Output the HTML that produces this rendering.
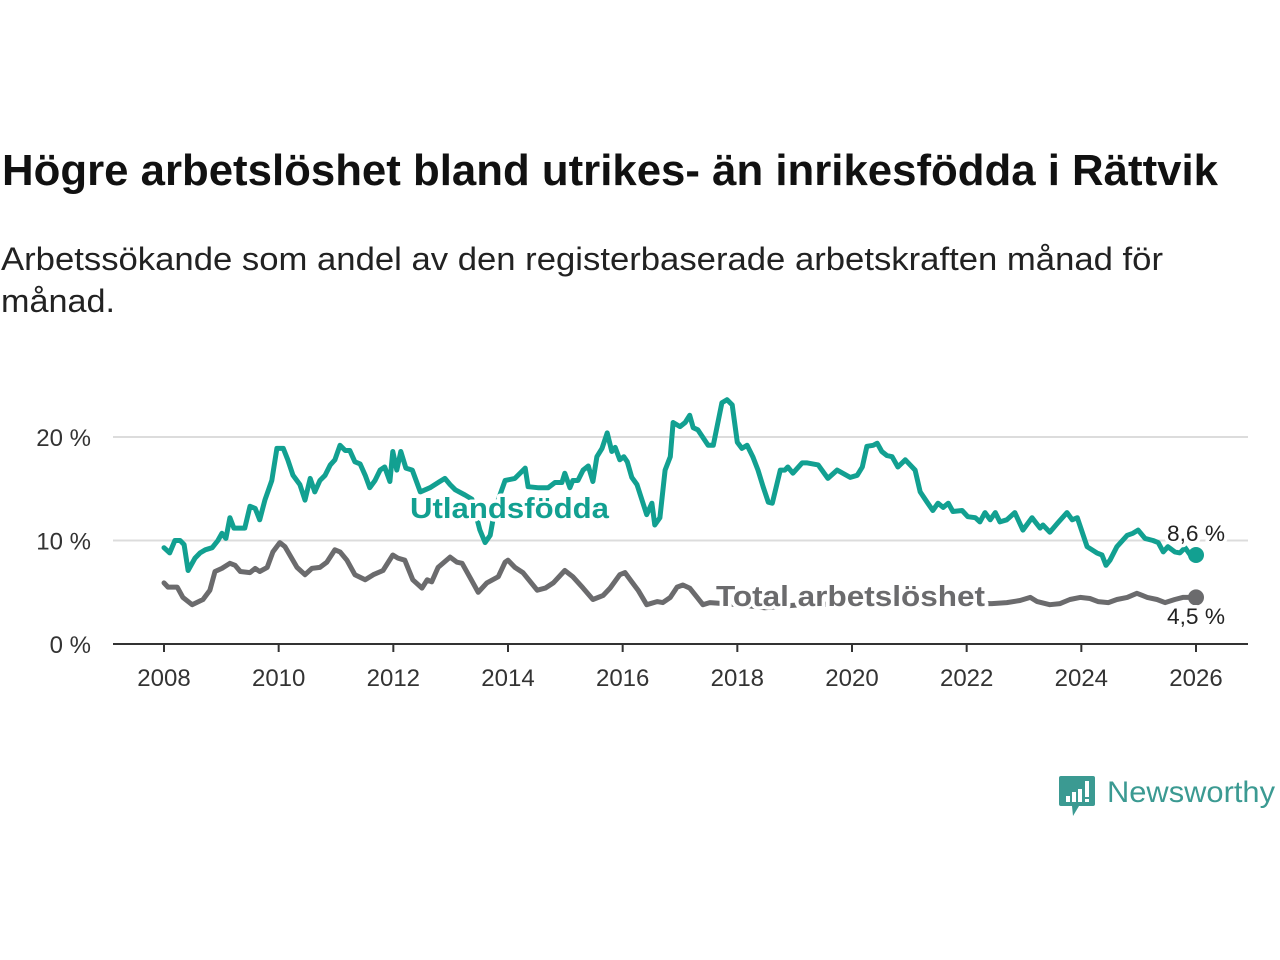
<!DOCTYPE html>
<html><head><meta charset="utf-8"><style>
html,body{margin:0;padding:0;background:#fff;}
svg{display:block;font-family:"Liberation Sans",sans-serif;}
</style></head><body>
<svg id="chart" width="1280" height="960" viewBox="0 0 1280 960">
<text x="2" y="185" font-size="44" font-weight="bold" fill="#111" textLength="1216" lengthAdjust="spacingAndGlyphs">Högre arbetslöshet bland utrikes- än inrikesfödda i Rättvik</text>
<text x="1" y="270" font-size="32" fill="#222" textLength="1162" lengthAdjust="spacingAndGlyphs">Arbetssökande som andel av den registerbaserade arbetskraften månad för</text>
<text x="1" y="312" font-size="32" fill="#222" textLength="114" lengthAdjust="spacingAndGlyphs">månad.</text>
<g id="grid"></g>
<g id="lines"></g>
<g id="labels"></g>
<g>
<path d="M1061 776 h32 a2 2 0 0 1 2 2 v26 a2 2 0 0 1 -2 2 h-14 l-6 10 l-1 -10 h-11 a2 2 0 0 1 -2 -2 v-26 a2 2 0 0 1 2 -2z" fill="#3b9a92"/>
<rect x="1066" y="796" width="4" height="6" fill="#fff"/><rect x="1072" y="792" width="4" height="10" fill="#fff"/><rect x="1078" y="789" width="4" height="13" fill="#fff"/><rect x="1085" y="781" width="4" height="16" fill="#fff"/><rect x="1085" y="799" width="4" height="3" fill="#fff"/>
<text x="1107" y="802" font-size="30" fill="#3b9a92" textLength="168" lengthAdjust="spacingAndGlyphs">Newsworthy</text>
</g>
</svg>
<script>
const tealYears=[0,.10,.19,.28,.35,.42,.54,.63,.72,.84,.94,1.01,1.08,1.15,1.22,1.41,1.50,1.59,1.67,1.76,1.88,1.97,2.08,2.16,2.25,2.37,2.46,2.55,2.63,2.72,2.81,2.90,2.98,3.07,3.16,3.24,3.33,3.42,3.51,3.59,3.68,3.77,3.85,3.94,3.99,4.06,4.13,4.22,4.33,4.47,4.64,4.81,4.90,4.99,5.08,5.25,5.37,5.51,5.60,5.69,5.77,5.95,6.12,6.30,6.35,6.52,6.70,6.82,6.94,6.99,7.08,7.13,7.22,7.31,7.40,7.48,7.55,7.64,7.73,7.81,7.87,7.95,8.02,8.08,8.16,8.25,8.42,8.51,8.56,8.65,8.74,8.83,8.88,9.00,9.09,9.17,9.23,9.31,9.49,9.58,9.73,9.82,9.91,10.00,10.08,10.17,10.27,10.36,10.45,10.54,10.61,10.75,10.83,10.88,10.97,11.13,11.22,11.41,11.58,11.74,11.97,12.09,12.18,12.26,12.37,12.44,12.52,12.61,12.70,12.80,12.93,13.10,13.19,13.31,13.41,13.50,13.59,13.68,13.76,13.92,14.02,14.15,14.23,14.32,14.41,14.50,14.58,14.70,14.84,14.98,15.14,15.28,15.33,15.45,15.59,15.75,15.84,15.93,16.10,16.27,16.36,16.43,16.50,16.62,16.80,16.90,16.99,17.11,17.25,17.34,17.43,17.51,17.63,17.72,17.81,17.90,18.0];
const tealValues=[9.3,8.8,10.0,10.0,9.6,7.1,8.3,8.8,9.1,9.3,10.0,10.7,10.2,12.2,11.2,11.2,13.3,13.1,12.0,13.9,15.8,18.9,18.9,17.8,16.3,15.4,13.9,16.0,14.7,15.8,16.3,17.3,17.8,19.2,18.7,18.7,17.6,17.4,16.3,15.1,15.8,16.8,17.1,15.7,18.6,16.8,18.6,17.0,16.8,14.7,15.1,15.7,16.0,15.4,14.9,14.4,14.0,11.0,9.8,10.5,13.0,15.8,16.0,17.0,15.2,15.1,15.1,15.6,15.6,16.5,15.1,15.8,15.8,16.8,17.2,15.7,18.1,18.9,20.4,18.6,19.0,17.8,18.1,17.6,16.1,15.4,12.5,13.6,11.5,12.2,16.8,18.1,21.4,21.0,21.4,22.1,20.9,20.7,19.2,19.2,23.3,23.6,23.1,19.5,18.9,19.2,18.1,16.8,15.2,13.7,13.6,16.8,16.8,17.1,16.5,17.5,17.5,17.3,16.0,16.8,16.1,16.3,17.1,19.1,19.2,19.4,18.6,18.2,18.1,17.1,17.8,16.8,14.7,13.7,12.9,13.6,13.2,13.6,12.8,12.9,12.3,12.2,11.8,12.7,12.0,12.7,11.8,12.0,12.7,11.0,12.2,11.2,11.5,10.8,11.7,12.7,12.0,12.2,9.4,8.8,8.6,7.6,8.1,9.4,10.5,10.7,11.0,10.2,10.0,9.8,8.9,9.4,8.9,8.8,9.3,8.6,8.6];
const totalYears=[0,.07,.23,.33,.49,.68,.80,.89,1.01,1.15,1.24,1.33,1.50,1.59,1.67,1.80,1.90,2.02,2.11,2.32,2.46,2.58,2.72,2.84,2.98,3.07,3.19,3.33,3.51,3.65,3.82,3.99,4.08,4.20,4.34,4.50,4.59,4.67,4.78,4.99,5.11,5.20,5.34,5.48,5.63,5.83,5.95,6.00,6.12,6.26,6.51,6.65,6.79,6.99,7.13,7.31,7.48,7.66,7.78,7.95,8.04,8.16,8.27,8.42,8.60,8.70,8.83,8.95,9.05,9.17,9.30,9.40,9.52,10.05,10.48,11.09,11.97,12.84,13.71,14.44,14.70,14.93,15.11,15.23,15.45,15.63,15.80,15.98,16.15,16.29,16.47,16.62,16.80,16.97,17.15,17.32,17.46,17.63,17.77,18.0];
const totalValues=[5.9,5.5,5.5,4.5,3.8,4.3,5.2,7.0,7.3,7.8,7.6,7.0,6.9,7.3,7.0,7.4,8.9,9.8,9.4,7.4,6.7,7.3,7.4,7.9,9.1,8.9,8.1,6.7,6.2,6.7,7.1,8.6,8.3,8.1,6.2,5.4,6.2,6.0,7.4,8.4,7.9,7.8,6.4,5.0,5.9,6.5,7.9,8.1,7.4,6.9,5.2,5.4,5.9,7.1,6.5,5.4,4.3,4.7,5.4,6.7,6.9,6.0,5.2,3.8,4.1,4.0,4.5,5.5,5.7,5.4,4.5,3.8,4.0,3.8,3.5,3.8,3.9,3.8,3.9,3.9,4.0,4.2,4.5,4.1,3.8,3.9,4.3,4.5,4.4,4.1,4.0,4.3,4.5,4.9,4.5,4.3,4.0,4.3,4.5,4.5];
const yTicks=[0,10,20];
const yTickLabels=["0 %","10 %","20 %"];
const xTicks=[2008,2010,2012,2014,2016,2018,2020,2022,2024,2026];
const seriesNames=["Utlandsfödda","Total arbetslöshet"];
const lastLabels=["8,6 %","4,5 %"];

const NS="http://www.w3.org/2000/svg";
const xs=y=>164+(y-2008)*(1032/18);
const ys=v=>644-v*10.35;
function mk(tag,parent,attrs){const e=document.createElementNS(NS,tag);for(const k in attrs)e.setAttribute(k,attrs[k]);parent.appendChild(e);return e;}
const grid=document.getElementById('grid'),lines=document.getElementById('lines'),labels=document.getElementById('labels');
yTicks.forEach((t,i)=>{
  if(t>0){const l=mk('line',grid,{x1:113,x2:1248,y1:ys(t),y2:ys(t),stroke:'#dcdcdc','stroke-width':2});
  
  }
  const tx=mk('text',grid,{x:91,y:ys(t)+9,'font-size':24,fill:'#333','text-anchor':'end'});tx.textContent=yTickLabels[i];
  
  
});
const ax=mk('line',grid,{x1:113,x2:1248,y1:644,y2:644,stroke:'#333','stroke-width':2});


xTicks.forEach(t=>{
  const tk=mk('line',grid,{x1:xs(t),x2:xs(t),y1:644,y2:652,stroke:'#333','stroke-width':2});
  
  
  const tx=mk('text',grid,{x:xs(t),y:686,'font-size':24,fill:'#333','text-anchor':'middle'});tx.textContent=t;
  
  
});
function draw(yrs,vals,color,name){
  const m=Math.min(yrs.length,vals.length);
  let d='';
  for(let i=0;i<m;i++){d+=(i?'L':'M')+xs(2008+yrs[i]).toFixed(1)+' '+ys(vals[i]).toFixed(1)+' ';}
  const p=mk('path',lines,{d:d,fill:'none',stroke:color,'stroke-width':5,'stroke-linejoin':'round','stroke-linecap':'round'});
  
  
  const n=m-1;
  const c=mk('circle',lines,{cx:xs(2008+yrs[n]),cy:ys(vals[n]),r:8,fill:color});
  
  
}
draw(totalYears,totalValues,'#6b6b6d','total-line');
draw(tealYears,tealValues,'#12a091','utlandsfodda-line');
function lab(x,y,txt,color,size,bold,name,len){
  const t=mk('text',labels,{x:x,y:y,'font-size':size,fill:color,'font-weight':bold?'bold':'normal',stroke:'#fff','stroke-width':7,'paint-order':'stroke','stroke-linejoin':'round'});
  if(len){t.setAttribute('textLength',len);t.setAttribute('lengthAdjust','spacingAndGlyphs');}
  t.textContent=txt;
  
  
}
lab(410,518,seriesNames[0],'#12a091',29,true,'utlandsfodda-label',199);
lab(716,606,seriesNames[1],'#6b6b6d',29,true,'total-label',269);
lab(1167,541,lastLabels[0],'#222',22,false,'utlandsfodda-last-value',58);
lab(1167,624,lastLabels[1],'#222',22,false,'total-last-value',58);
</script>
</body></html>
